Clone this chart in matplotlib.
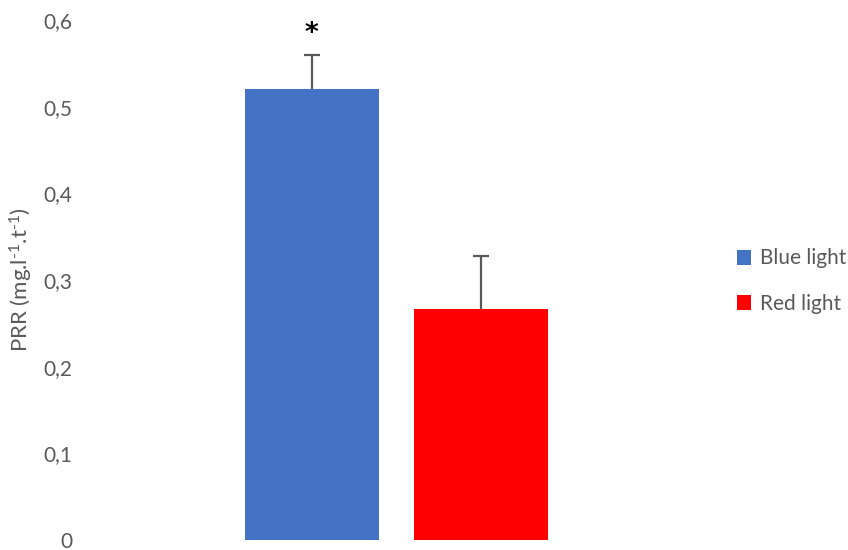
import matplotlib
matplotlib.use("Agg")
import matplotlib.pyplot as plt
from matplotlib.ticker import FuncFormatter

plt.rcParams['font.family'] = ['Lato', 'DejaVu Sans']
plt.rcParams['mathtext.fontset'] = 'custom'
plt.rcParams['mathtext.rm'] = 'Lato'
plt.rcParams['mathtext.it'] = 'Lato:italic'

labels = ['Blue light', 'Red light']
values = [0.52, 0.266]
errors = [0.04, 0.062]
colors = ['#4472C4', '#FF0000']
yticks = [0, 0.1, 0.2, 0.3, 0.4, 0.5, 0.6]

grey = '#595959'

fig = plt.figure(figsize=(8.48, 5.5), dpi=100)
# axes placed so that y=0 sits at 540 px and 0.6 at 20 px
ax = fig.add_axes([91.5/848, 10/550, 610/848, 520/550])

pos = [0, 1]
bars = []
for p, v, e, c, l in zip(pos, values, errors, colors, labels):
    b = ax.bar(p, v, width=0.79, color=c, label=l)
    # only the upper half of the error bar, cap on top
    ax.plot([p, p], [v, v + e], color=grey, lw=1.6, solid_capstyle='butt')
    ax.plot(p, v + e, marker='_', markersize=12, mew=1.6, color=grey)
    bars.append(b)

# significance mark over the blue bar
ax.text(pos[0], values[0] + errors[0] + 0.024, '*', ha='center', va='center',
        fontsize=19, fontweight='bold', color='black', family='DejaVu Sans')

ax.set_xlim(-1.3, 2.3)
ax.set_ylim(0, 0.6)
ax.set_yticks(yticks)
ax.yaxis.set_major_formatter(FuncFormatter(lambda v, _: ('%g' % round(v, 1)).replace('.', ',')))
ax.set_xticks([])
ax.tick_params(axis='y', length=0, pad=14, labelsize=15, labelcolor=grey)
for s in ax.spines.values():
    s.set_visible(False)

ax.set_ylabel('PRR (mg.l$^{\\text{-}1}$.t$^{\\text{-}1}$)', fontsize=16, color=grey, labelpad=6)

leg = fig.legend(handles=bars, labels=labels, loc='center left',
                 bbox_to_anchor=(718/848, 1 - 281/550), frameon=False,
                 fontsize=15, handlelength=0.7, handleheight=0.7,
                 handletextpad=0.4, labelspacing=1.2)
for t in leg.get_texts():
    t.set_color(grey)

fig.savefig('out.png', dpi=100)
